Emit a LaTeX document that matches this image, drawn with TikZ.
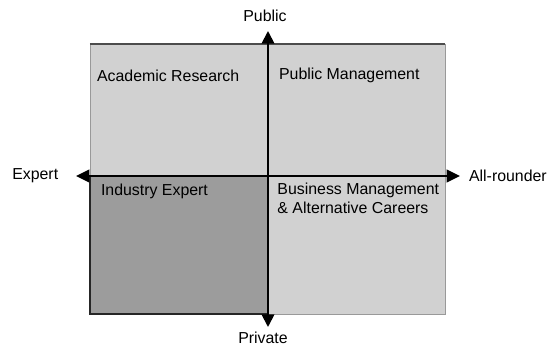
\documentclass[tikz,border=0pt]{standalone}
\usepackage{fontspec}
\setmainfont{Liberation Sans}
\usetikzlibrary{arrows.meta}
\definecolor{quadlight}{HTML}{D1D1D1}
\definecolor{quaddark}{HTML}{9C9C9C}
\tikzset{
    grid/axis/.style={
            line width=1.3pt,
            {Triangle[width=9pt,length=9.5pt]}-{Triangle[width=9pt,length=9.5pt]}
        },
    grid/light/.style={
            fill=quadlight,
            draw=black!40,
            line width=0.6pt
        },
    grid/dark/.style={
            fill=quaddark
        },
    grid/edge/.style={
            black!85,
            line width=1.2pt
        },
    grid/text/.style={
            font=\fontsize{11.3}{13.6}\selectfont,
            inner sep=0pt,
            align=left
        }
}

\begin{document}
\begin{tikzpicture}
        \useasboundingbox (0,0) rectangle (13.725,8.675);

        \coordinate (nw) at (2.25,7.575);
        \coordinate (se) at (11.125,0.825);
        \coordinate (O) at (6.7,4.275);

        \path[grid/light] (nw) rectangle (se);
        \path[grid/dark] (nw |- O) rectangle (O |- se);
        \draw[black!70, line width=0.8pt] (nw) -- (nw -| se);
        \draw[grid/edge] (nw |- O) -- (nw |- se) -- (O |- se);

        \node[grid/text] (pub) at (6.625,8.275) {Public};
        \node[grid/text] (priv) at (6.575,0.22) {Private};
        \node[grid/text, anchor=west] (exp) at (0.3,4.275) {Expert};
        \node[grid/text, anchor=west] (all) at (11.72,4.275) {All-rounder};

        \coordinate (up) at (6.7,7.9);
        \coordinate (down) at (6.7,0.5);
        \coordinate (left) at (1.9,4.275);
        \coordinate (right) at (11.5,4.275);

        \draw[grid/axis, -{Triangle[width=9pt,length=9pt]}] (O) -- (up);
        \draw[grid/axis, -{Triangle[width=9pt,length=9pt]}] (O) -- (down);
        \draw[grid/axis] (left) -- (right);

        \node[grid/text, anchor=west] (acad) at (2.42,6.78) {Academic Research};
        \node[grid/text, anchor=west] (pubm) at (6.97,6.78) {Public Management};
        \node[grid/text, anchor=west] (ind) at (2.52,3.88) {Industry Expert};
        \node[grid/text, anchor=north west] (bus) at (6.93,4.1) {Business Management\\\& Alternative Careers};

    \end{tikzpicture}
\end{document}
